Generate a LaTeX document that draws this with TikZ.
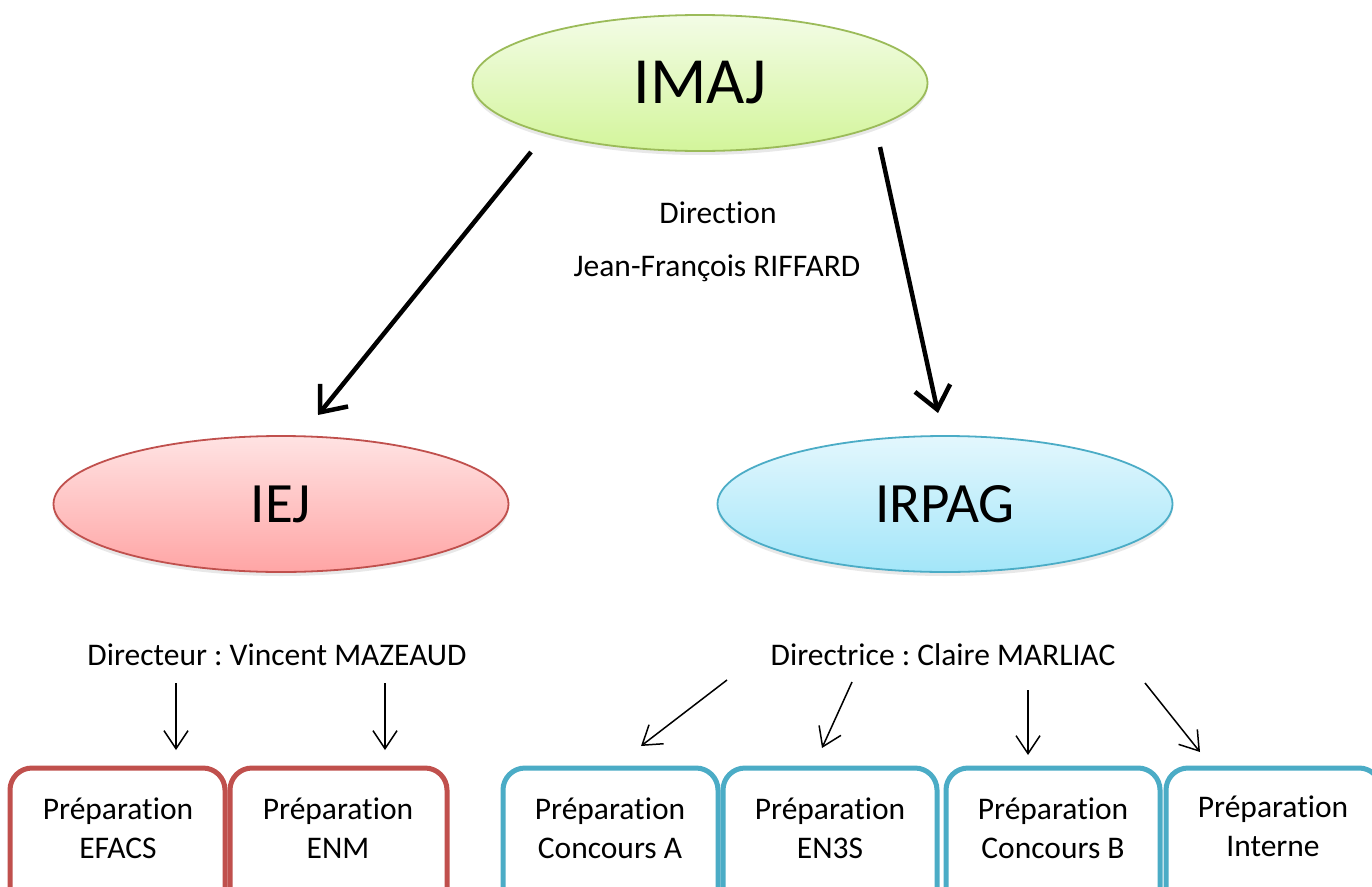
\documentclass[tikz,border=0pt]{standalone}
\usepackage{fontspec}
\setmainfont[Ligatures={NoCommon}]{Carlito}
\frenchspacing
\usetikzlibrary{shapes.geometric,shadows,arrows.meta}
\definecolor{gborder}{HTML}{9BBB59}
\definecolor{gtop}{HTML}{F3FCE6}
\definecolor{gbot}{HTML}{D3F59B}
\definecolor{rborder}{HTML}{C0504D}
\definecolor{rtop}{HTML}{FFE3E3}
\definecolor{rbot}{HTML}{FFA5A5}
\definecolor{bborder}{HTML}{4BACC6}
\definecolor{btop}{HTML}{E3F7FD}
\definecolor{bbot}{HTML}{A3E6F9}
\tikzset{
  ell/.style={ellipse, minimum width=455pt, minimum height=136pt, inner sep=0pt,
    line width=1.8pt, shading=axis, shading angle=0,
    drop shadow={opacity=0.18, shadow xshift=0pt, shadow yshift=-4pt}},
  lbl/.style={font=\fontsize{31.5}{39}\selectfont, inner sep=0pt, align=center},
  prep/.style={rounded corners=22pt, line width=5pt},
  bigarrow/.style={line width=4.5pt, -{Straight Barb[length=22pt,width=36pt,line width=4.5pt]}},
  smallarrow/.style={line width=1.5pt, -{Straight Barb[length=18pt,width=24pt,line width=1.5pt]}},
}
\begin{document}
\begin{tikzpicture}[x=1pt,y=-1pt]
\useasboundingbox (0,0) rectangle (1372,886);
\clip (0,0) rectangle (1372,886);
\fill[white] (0,0) rectangle (1372,886);

% ellipses
\node[ell, draw=gborder, top color=gtop, bottom color=gbot] (imaj) at (700,83)
  {\fontsize{66}{70}\selectfont IMAJ};
\node[ell, draw=rborder, top color=rtop, bottom color=rbot] (iej) at (281,504)
  {\fontsize{57}{60}\selectfont IEJ};
\node[ell, draw=bborder, top color=btop, bottom color=bbot] (irpag) at (945,504)
  {\fontsize{57}{60}\selectfont IRPAG};

% direction texts
\node[lbl] (dir) at (718,213) {Direction};
\node[lbl] (jf) at (717,268) {Jean-François RIFFARD};
\node[lbl] (dleft) at (277,655) {Directeur : Vincent MAZEAUD};
\node[lbl] (dright) at (943,655) {Directrice : Claire MARLIAC};

% big arrows
\coordinate (a1s) at (531,152);
\coordinate (a1e) at (318,415);
\coordinate (a2s) at (880,147);
\coordinate (a2e) at (938,413);
\draw[bigarrow] (a1s) -- (a1e);
\draw[bigarrow] (a2s) -- (a2e);

% boxes
\draw[prep, draw=rborder] (10,930) |- (225,768) -- (225,930);
\draw[prep, draw=rborder] (230,930) |- (447,768) -- (447,930);
\draw[prep, draw=bborder] (503,930) |- (718,768) -- (718,930);
\draw[prep, draw=bborder] (723,930) |- (937,768) -- (937,930);
\draw[prep, draw=bborder] (946,930) |- (1160,768) -- (1160,930);
\draw[prep, draw=bborder] (1166,930) |- (1381,768) -- (1381,930);

\node[lbl] (p1) at (118,828) {Préparation\\EFACS};
\node[lbl] (p2) at (338,828) {Préparation\\ENM};
\node[lbl] (p3) at (610,828) {Préparation\\Concours A};
\node[lbl] (p4) at (830,828) {Préparation\\EN3S};
\node[lbl] (p5) at (1053,828) {Préparation\\Concours B};
\node[lbl] (p6) at (1273,826) {Préparation\\Interne};

% small arrows
\coordinate (s1s) at (176,683); \coordinate (s1e) at (176,750);
\coordinate (s2s) at (385,683); \coordinate (s2e) at (385,750);
\coordinate (s3s) at (727,680); \coordinate (s3e) at (641,746);
\coordinate (s4s) at (852,682); \coordinate (s4e) at (822,748);
\coordinate (s5s) at (1028,690); \coordinate (s5e) at (1028,755);
\coordinate (s6s) at (1145,683); \coordinate (s6e) at (1200,752);
\foreach \i in {1,...,6} { \draw[smallarrow] (s\i s) -- (s\i e); }
\end{tikzpicture}
\end{document}
